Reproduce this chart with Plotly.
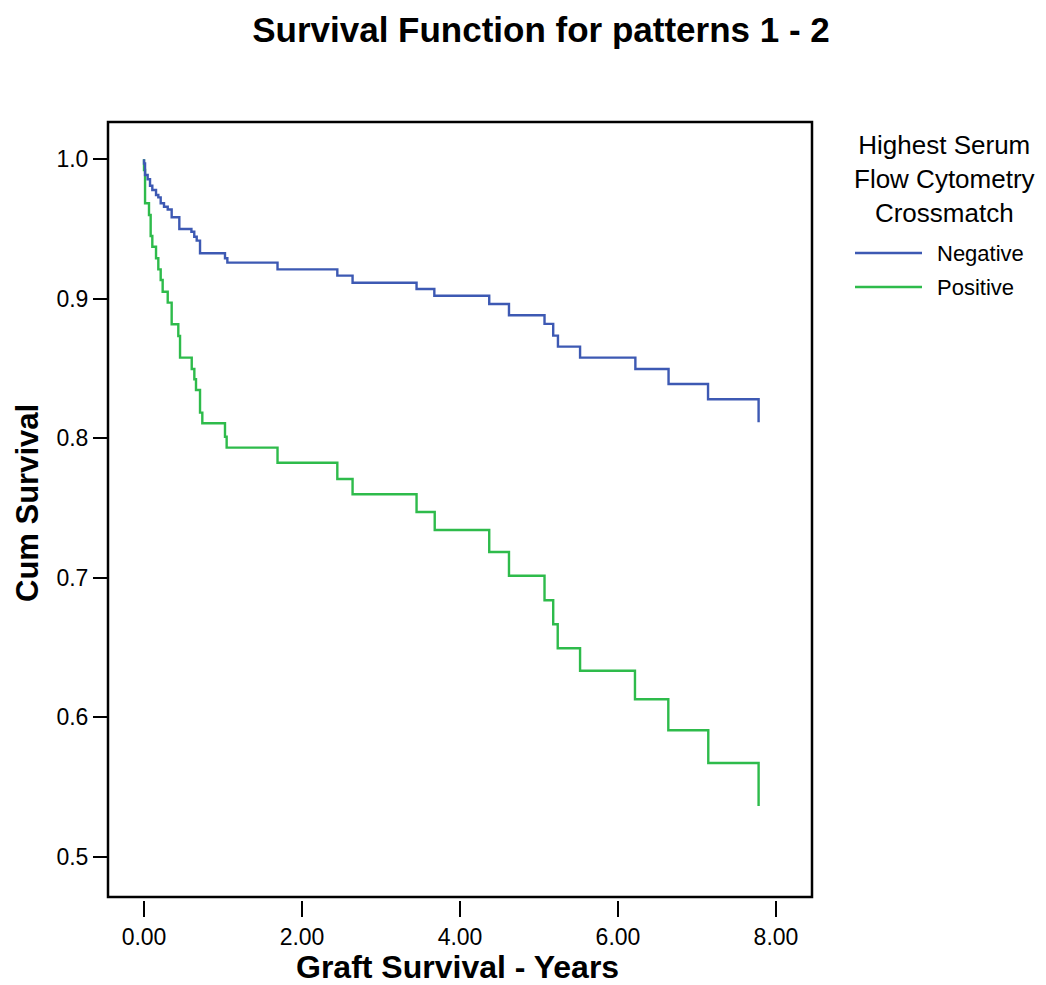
import plotly.graph_objects as go

# ---- data (time of each drop, survival after drop) ----
neg_time = [0.0, 0.0, 0.013, 0.046, 0.076, 0.105, 0.152, 0.181, 0.211, 0.253, 0.30,
            0.35, 0.447, 0.60, 0.636, 0.667, 0.709, 1.025, 1.055, 1.69, 2.447,
            2.64, 3.45, 3.675, 4.37, 4.62, 5.07, 5.18, 5.24, 5.52, 6.22, 6.64,
            7.14, 7.78]
neg_surv = [1.0, 0.997, 0.9887, 0.9857, 0.981, 0.978, 0.9744, 0.9727, 0.9685, 0.966,
            0.964, 0.9584, 0.950, 0.948, 0.9445, 0.9417, 0.9326, 0.929, 0.9259,
            0.9211, 0.9166, 0.9115, 0.907, 0.9022, 0.8963, 0.8882, 0.882, 0.8736,
            0.8657, 0.8578, 0.8497, 0.8389, 0.828, 0.8115]

pos_time = [0.0, 0.0, 0.013, 0.063, 0.084, 0.105, 0.152, 0.181, 0.211, 0.236, 0.30,
            0.35, 0.434, 0.456, 0.604, 0.637, 0.658, 0.709, 0.738, 1.025, 1.046,
            1.69, 2.447, 2.64, 3.45, 3.68, 4.37, 4.62, 5.07, 5.18, 5.237, 5.52,
            6.215, 6.637, 7.143, 7.78]
pos_surv = [1.0, 0.9923, 0.9685, 0.960, 0.945, 0.9373, 0.929, 0.9211, 0.9135, 0.905,
            0.8972, 0.8817, 0.8733, 0.8578, 0.8497, 0.8423, 0.8346, 0.8184, 0.8108,
            0.8011, 0.7933, 0.7825, 0.7708, 0.7599, 0.7472, 0.7343, 0.7185, 0.7015,
            0.6839, 0.6667, 0.6495, 0.6334, 0.6129, 0.5907, 0.5672, 0.5364]

series_names = ["Negative", "Positive"]
x_ticks = [0, 2, 4, 6, 8]
x_tick_labels = ["0.00", "2.00", "4.00", "6.00", "8.00"]
y_ticks = [0.5, 0.6, 0.7, 0.8, 0.9, 1.0]
y_tick_labels = ["0.5", "0.6", "0.7", "0.8", "0.9", "1.0"]

BLUE = "#3D59B3"
GREEN = "#2EBB4B"
FONT = "Liberation Sans, Arial, sans-serif"

fig = go.Figure()
fig.add_trace(go.Scatter(x=pos_time, y=pos_surv, mode="lines", name=series_names[1],
                         line=dict(color=GREEN, width=2.4, shape="hv"), showlegend=False))
fig.add_trace(go.Scatter(x=neg_time, y=neg_surv, mode="lines", name=series_names[0],
                         line=dict(color=BLUE, width=2.4, shape="hv"), showlegend=False))

# page body has an 8px margin, so figure coords = screen coords - 8
W, H = 1038, 977
left, right, top, paper_bottom = 100, 804, 114, 892
plot_bottom = 889


def px(x):
    return (x - left) / (right - left)


def py(y):
    return (paper_bottom - y) / (paper_bottom - top)


fig.update_layout(
    width=W, height=H,
    margin=dict(l=left, r=W - right, t=top, b=H - paper_bottom),
    paper_bgcolor="white", plot_bgcolor="white",
    font=dict(family=FONT, color="black"),
    title=dict(text="<b>Survival Function for patterns 1 - 2</b>",
               x=533 / W, xanchor="center", y=1 - 22 / H, yanchor="middle",
               font=dict(size=35, family=FONT, color="black")),
    showlegend=False,
    xaxis=dict(
        range=[-0.456, 8.456], tickvals=x_ticks, ticktext=x_tick_labels,
        showgrid=False, zeroline=False, showline=False,
        ticks="outside", ticklen=16, tickwidth=1.5, tickcolor="black",
        tickfont=dict(size=23, family=FONT),
        anchor="free", position=0,
    ),
    yaxis=dict(
        range=[0.4712, 1.0267], tickvals=y_ticks, ticktext=y_tick_labels,
        domain=[(paper_bottom - plot_bottom) / (paper_bottom - top), 1],
        showgrid=False, zeroline=False, showline=False,
        ticks="outside", ticklen=14, tickwidth=1.5, tickcolor="black",
        tickfont=dict(size=23, family=FONT),
    ),
)

# plot frame
fig.add_shape(type="rect", xref="x domain", yref="y domain", x0=0, x1=1, y0=0, y1=1,
              line=dict(color="black", width=2.5), layer="above")

# axis titles
fig.add_annotation(text="<b>Graft Survival - Years</b>", xref="paper", yref="paper",
                   x=px(449), y=py(959), xanchor="center", yanchor="middle",
                   showarrow=False, font=dict(size=32, family=FONT, color="black"))
fig.add_annotation(text="<b>Cum Survival</b>", xref="paper", yref="paper",
                   x=px(19), y=py(495), xanchor="center", yanchor="middle",
                   textangle=-90, showarrow=False,
                   font=dict(size=31, family=FONT, color="black"))

# legend (title + items)
fig.add_annotation(text="Highest Serum<br>Flow Cytometry<br>Crossmatch",
                   xref="paper", yref="paper", x=px(936), y=py(171),
                   xanchor="center", yanchor="middle", align="center",
                   showarrow=False, font=dict(size=26, family=FONT, color="black"))
for name, color, yy in [(series_names[0], BLUE, 245), (series_names[1], GREEN, 279)]:
    fig.add_shape(type="line", xref="paper", yref="paper",
                  x0=px(847), x1=px(914), y0=py(yy), y1=py(yy),
                  line=dict(color=color, width=2.4))
    fig.add_annotation(text=name, xref="paper", yref="paper", x=px(927), y=py(yy),
                       xanchor="left", yanchor="middle", showarrow=False,
                       font=dict(size=22, family=FONT, color="black"))

fig.write_html("out.html")
